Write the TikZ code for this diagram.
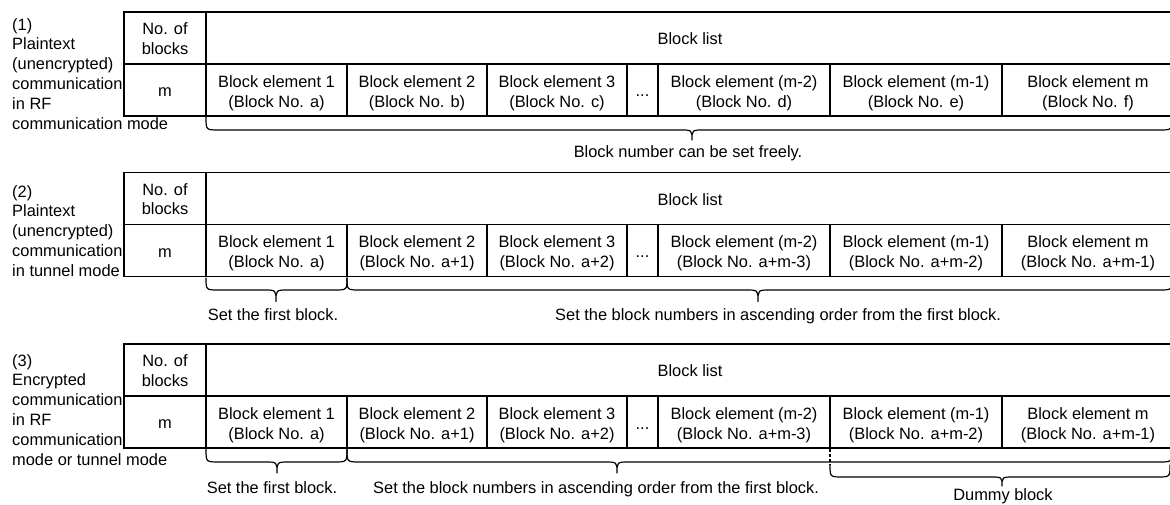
\documentclass[tikz,border=0pt]{standalone}
\usepackage{fontspec}
\setmainfont{Liberation Sans}
\newcommand\mybrace[6]{% x1, x2, xtip, ytop, yline, ytip
  \draw[brc] (#1,#4) .. controls (#1,#5) .. ({#1+13},#5) -- ({#3-12},#5)
    .. controls (#3,#5) .. (#3,#6) .. controls (#3,#5) .. ({#3+12},#5)
    -- ({#2-13},#5) .. controls (#2,#5) .. (#2,#4);}
\newcommand\tablegrid[1]{% ytop
  \draw[grid] (124,#1) rectangle (1174,{#1+104});
  \draw[grid] (124,{#1+52}) -- (1174,{#1+52});
  \draw[grid] (206,#1) -- (206,{#1+104});
  \foreach \xx in {347,487,627,658,830,1002} \draw[grid] (\xx,{#1+52}) -- (\xx,{#1+104});}
\begin{document}
\begin{tikzpicture}[x=1pt,y=-1pt,
  txt/.style={font=\fontsize{16.4}{19.8}\selectfont, inner sep=0pt, align=center},
  lbl/.style={font=\fontsize{16.4}{19.8}\selectfont, inner sep=0pt, align=left, anchor=north west},
  grid/.style={line width=1.5pt},
  brc/.style={line width=1.2pt, line join=round, line cap=round}]
\useasboundingbox (0,0) rectangle (1170,505);
\clip (0,0) rectangle (1170,505);
\fill[white] (0,0) rectangle (1170,505);

% ---------- row 1 ----------
\tablegrid{12}
\node[lbl] (lab1) at (12,18.1) {(1)\\Plaintext\\(unencrypted)\\communication\\in RF\\communication mode};
\node[txt] (r1n) at (165,38.7) {No. of\\blocks};
\node[txt] (r1h) at (690,39) {Block list};
\node[txt] (r1m) at (165,92.3) {m};
\node[txt] (r1e1) at (276.5,93) {Block element 1\\(Block No. a)};
\node[txt] (r1e2) at (417,93) {Block element 2\\(Block No. b)};
\node[txt] (r1e3) at (557,93) {Block element 3\\(Block No. c)};
\node[txt,anchor=base] (r1d) at (642.5,97) {...};
\node[txt] (r1e4) at (744,93) {Block element (m-2)\\(Block No. d)};
\node[txt] (r1e5) at (916,93) {Block element (m-1)\\(Block No. e)};
\node[txt] (r1e6) at (1088,93) {Block element m\\(Block No. f)};
\mybrace{206}{1172}{692}{117}{130}{140}
\node[txt,anchor=base] (r1b) at (688,157.3) {Block number can be set freely.};

% ---------- row 2 ----------
\tablegrid{172.5}
\node[lbl] (lab2) at (12,185.1) {(2)\\Plaintext\\(unencrypted)\\communication\\in tunnel mode};
\node[txt] (r2n) at (165,199.2) {No. of\\blocks};
\node[txt] (r2h) at (690,199.5) {Block list};
\node[txt] (r2m) at (165,252.8) {m};
\node[txt] (r2e1) at (276.5,253.5) {Block element 1\\(Block No. a)};
\node[txt] (r2e2) at (417,253.5) {Block element 2\\(Block No. a+1)};
\node[txt] (r2e3) at (557,253.5) {Block element 3\\(Block No. a+2)};
\node[txt,anchor=base] (r2d) at (642.5,257.5) {...};
\node[txt] (r2e4) at (744,253.5) {Block element (m-2)\\(Block No. a+m-3)};
\node[txt] (r2e5) at (916,253.5) {Block element (m-1)\\(Block No. a+m-2)};
\node[txt] (r2e6) at (1088,253.5) {Block element m\\(Block No. a+m-1)};
\mybrace{206}{347}{276}{278}{290}{301.5}
\mybrace{347}{1172}{758}{278}{290}{301.5}
\node[txt,anchor=base] (r2f) at (273,320) {Set the first block.};
\node[txt,anchor=base west] (r2a) at (555,320) {Set the block numbers in ascending order from the first block.};

% ---------- row 3 ----------
\tablegrid{344}
\node[lbl] (lab3) at (12,354.1) {(3)\\Encrypted\\communication\\in RF\\communication\\mode or tunnel mode};
\node[txt] (r3n) at (165,370.7) {No. of\\blocks};
\node[txt] (r3h) at (690,371) {Block list};
\node[txt] (r3m) at (165,424.3) {m};
\node[txt] (r3e1) at (276.5,425) {Block element 1\\(Block No. a)};
\node[txt] (r3e2) at (417,425) {Block element 2\\(Block No. a+1)};
\node[txt] (r3e3) at (557,425) {Block element 3\\(Block No. a+2)};
\node[txt,anchor=base] (r3d) at (642.5,429) {...};
\node[txt] (r3e4) at (744,425) {Block element (m-2)\\(Block No. a+m-3)};
\node[txt] (r3e5) at (916,425) {Block element (m-1)\\(Block No. a+m-2)};
\node[txt] (r3e6) at (1088,425) {Block element m\\(Block No. a+m-1)};
\mybrace{206}{347}{277}{449}{462}{473}
\mybrace{347}{1172}{617}{449}{462}{473}
\draw[line width=1.2pt, dash pattern=on 3pt off 2pt] (830,449) -- (830,465);
\mybrace{830}{1170}{1002}{465}{477}{486}
\node[txt,anchor=base] (r3f) at (272,493) {Set the first block.};
\node[txt,anchor=base west] (r3a) at (373,493) {Set the block numbers in ascending order from the first block.};
\node[txt,anchor=base] (r3dm) at (1003,500.5) {Dummy block};
\end{tikzpicture}
\end{document}
